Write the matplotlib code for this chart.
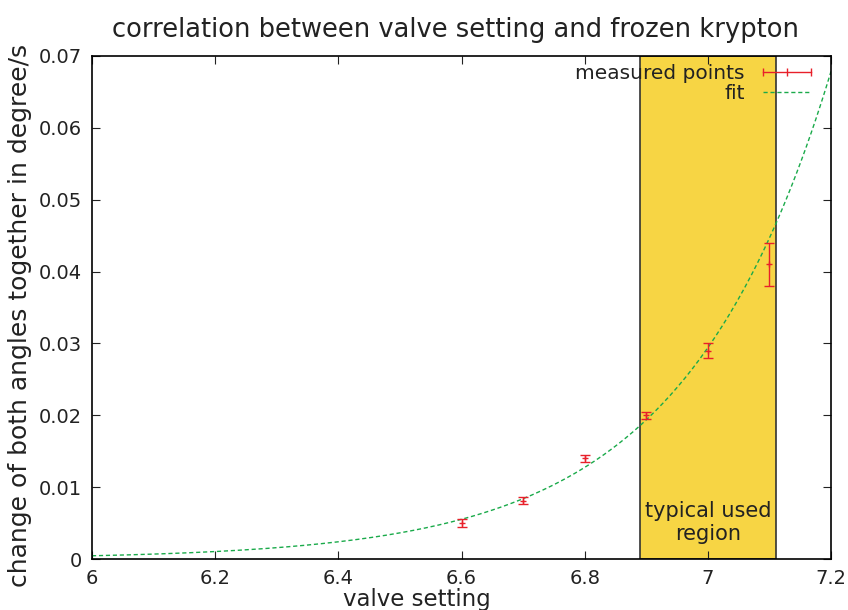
import numpy as np
import matplotlib
matplotlib.use('Agg')
import matplotlib.pyplot as plt
from matplotlib.lines import Line2D

plt.rcParams['font.family'] = ['DejaVu Sans']

# measured points
valve = [6.6, 6.7, 6.8, 6.9, 7.0, 7.1]
rate = [0.0050, 0.0081, 0.0140, 0.0200, 0.0290, 0.0410]
rate_err = [0.0005, 0.0005, 0.0005, 0.0005, 0.0010, 0.0030]

# fit f(x) = a*exp(b*(x-6))
fit_a = 0.00045
fit_b = 4.18

# typical used region
region = (6.89, 7.11)

fig = plt.figure(figsize=(8.48, 6.10), dpi=100)
ax = fig.add_axes([0.1085, 0.0836, 0.8715, 0.8246])

ax.axvspan(region[0], region[1], facecolor='#F7D544', edgecolor='#333333',
           linewidth=1.2, zorder=1)
ax.text(sum(region) / 2, 0.0051, 'typical used\nregion', ha='center', va='center',
        fontsize=15, color='#222222', linespacing=1.15, zorder=2)

xs = np.linspace(6.0, 7.2, 300)
ax.plot(xs, fit_a * np.exp(fit_b * (xs - 6.0)), color='#1AAA4A', lw=1.0,
        dashes=(3, 2), zorder=3)

ax.errorbar(valve, rate, yerr=rate_err, fmt='+', color='#E8202A', ms=4,
            elinewidth=1.0, capsize=3.5, capthick=1.0, zorder=4)

ax.set_xlim(6.0, 7.2)
ax.set_ylim(0, 0.07)
ax.set_xticks([6, 6.2, 6.4, 6.6, 6.8, 7, 7.2])
ax.set_xticklabels(['6', '6.2', '6.4', '6.6', '6.8', '7', '7.2'])
ax.set_yticks([0, 0.01, 0.02, 0.03, 0.04, 0.05, 0.06, 0.07])
ax.set_yticklabels(['0', '0.01', '0.02', '0.03', '0.04', '0.05', '0.06', '0.07'])
ax.tick_params(direction='in', top=True, right=True, length=6, width=0.8,
               labelsize=14, colors='#222222', pad=7)
for s in ax.spines.values():
    s.set_linewidth(1.2)
    s.set_zorder(5)

ax.set_xlabel('valve setting', fontsize=16.5, color='#222222')
ax.xaxis.set_label_coords(0.44, -0.057)
ax.set_ylabel('change of both angles together in degree/s', fontsize=18,
              color='#222222')
ax.yaxis.set_label_coords(-0.081, 0.485)
ax.set_title('correlation between valve setting and frozen krypton',
             fontsize=18.5, color='#222222', pad=14, x=0.492)

handles = [
    Line2D([], [], color='#E8202A', lw=1.0, marker='|', ms=6),
    Line2D([], [], color='#1AAA4A', lw=1.0, dashes=(3, 2)),
]
leg = ax.legend(handles, ['measured points', 'fit'], loc='upper right',
                frameon=False, markerfirst=False, fontsize=14.5, handlelength=3.0,
                handletextpad=0.6, borderaxespad=0.1, labelspacing=0.05,
                numpoints=3, bbox_to_anchor=(0.995, 1.005))
for t in leg.get_texts():
    t.set_color('#222222')

fig.savefig('out.png', dpi=100)
